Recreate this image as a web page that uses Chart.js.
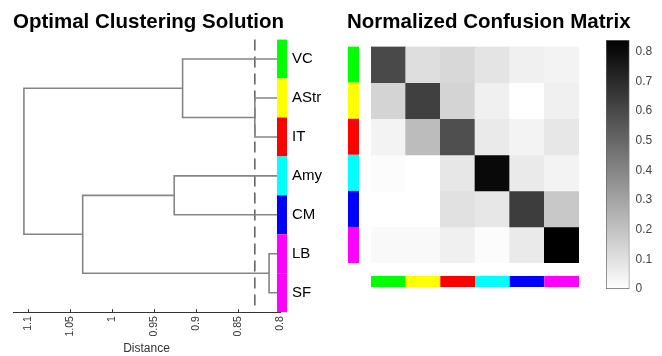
<!DOCTYPE html>
<html lang="en">
<head>
  <meta charset="UTF-8">
  <title>Optimal Clustering Solution</title>
  <style>
    body { margin: 0; background: #fff; }
    .wrap { position: relative; width: 662px; height: 356px; }
    canvas { position: absolute; top: 0; }
  </style>
  <script src="https://cdn.jsdelivr.net/npm/chart.js"></script>
</head>
<body>
  <div class="wrap">
    <canvas id="dendro" width="330" height="356" style="left:0"></canvas>
    <canvas id="matrix" width="332" height="356" style="left:330px"></canvas>
    <canvas id="cbar" width="62" height="356" style="left:600px"></canvas>
  </div>

  <script>
    // dendrogram leaves, top to bottom
    const leaves = ['VC', 'AStr', 'IT', 'Amy', 'CM', 'LB', 'SF'];
    const leafColors = ['#00ff00', '#ffff00', '#ff0000', '#00ffff', '#0000ff', '#ff00ff', '#ff00ff'];
    const leafBase = 0.8;
    // merges: [nodeA, nodeB, distance]; leaves are 0-6, new nodes numbered from 7
    const merges = [
      [5, 6, 0.813],   // 7: LB+SF
      [1, 2, 0.830],   // 8: AStr+IT
      [0, 8, 0.916],   // 9: VC+(AStr,IT)
      [3, 4, 0.926],   // 10: Amy+CM
      [10, 7, 1.035],  // 11
      [9, 11, 1.105]   // 12: root
    ];
    const cutoff = 0.83;
    const distanceTicks = [1.1, 1.05, 1, 0.95, 0.9, 0.85, 0.8];

    // confusion matrix, one array per true class (rows sum to ~1)
    const classes = ['VC', 'AStr', 'IT', 'Amy', 'CM', 'LB/SF'];
    const classColors = ['#00ff00', '#ffff00', '#ff0000', '#00ffff', '#0000ff', '#ff00ff'];
    const rowVC   = [0.60, 0.11, 0.13, 0.09, 0.05, 0.04];
    const rowAStr = [0.14, 0.63, 0.14, 0.05, 0.00, 0.05];
    const rowIT   = [0.04, 0.22, 0.58, 0.07, 0.04, 0.08];
    const rowAmy  = [0.01, 0.00, 0.08, 0.81, 0.07, 0.04];
    const rowCM   = [0.00, 0.00, 0.10, 0.08, 0.64, 0.18];
    const rowLBSF = [0.02, 0.02, 0.05, 0.01, 0.07, 0.84];
    const confusion = [rowVC, rowAStr, rowIT, rowAmy, rowCM, rowLBSF];
    const colorMax = 0.84;
    const colorbarTicks = [0, 0.1, 0.2, 0.3, 0.4, 0.5, 0.6, 0.7, 0.8];

    Chart.defaults.font.family = "'Liberation Sans', Arial, sans-serif";

    const gray = v => {
      const g = Math.round(255 * (1 - Math.min(v, colorMax) / colorMax));
      return `rgb(${g},${g},${g})`;
    };

    // ---- dendrogram ----
    const nodeX = [], nodeY = [];
    leaves.forEach((l, i) => { nodeX[i] = leafBase; nodeY[i] = i; });
    const links = merges.map(([a, b, h], k) => {
      nodeX[7 + k] = h;
      nodeY[7 + k] = (nodeY[a] + nodeY[b]) / 2;
      return [
        { x: nodeX[a], y: nodeY[a] }, { x: h, y: nodeY[a] },
        { x: h, y: nodeY[b] }, { x: nodeX[b], y: nodeY[b] }
      ];
    });

    // colour strip next to the leaves, plus small inward tick marks on the distance axis
    const leafStrip = {
      id: 'leafStrip',
      afterDatasetsDraw(chart) {
        const { ctx, chartArea, scales: { x, y } } = chart;
        ctx.save();
        ctx.strokeStyle = '#333';
        ctx.lineWidth = 1;
        distanceTicks.forEach(v => {
          const px = Math.round(x.getPixelForValue(v)) + 0.5;
          ctx.beginPath();
          ctx.moveTo(px, chartArea.bottom);
          ctx.lineTo(px, chartArea.bottom - 3);
          ctx.stroke();
        });
        leafColors.forEach((c, i) => {
          const top = y.getPixelForValue(i - 0.5);
          const bot = y.getPixelForValue(i + 0.5);
          ctx.fillStyle = c;
          ctx.fillRect(chartArea.right - 3, top, 10, bot - top);
        });
        ctx.restore();
      }
    };

    new Chart(document.getElementById('dendro'), {
      type: 'scatter',
      data: {
        datasets: [
          ...links.map(pts => ({
            data: pts, showLine: true, borderColor: '#858585', borderWidth: 1.6,
            pointRadius: 0, tension: 0, clip: false
          })),
          {
            data: [{ x: cutoff, y: -0.5 }, { x: cutoff, y: 6.45 }],
            showLine: true, borderColor: '#666', borderWidth: 1.6, borderDash: [11, 6],
            pointRadius: 0, clip: false
          }
        ]
      },
      options: {
        responsive: false,
        animation: false,
        layout: { padding: { left: 13, right: 0, top: 0, bottom: 0 } },
        plugins: {
          legend: { display: false },
          tooltip: { enabled: false },
          title: {
            display: true, text: 'Optimal Clustering Solution', align: 'start', color: '#000',
            font: { size: 20.5, weight: 'bold' }, padding: { top: 10, bottom: 5 }
          }
        },
        scales: {
          x: {
            type: 'linear', reverse: true, min: 0.8, max: 1.118, bounds: 'data',
            afterBuildTicks: s => { s.ticks = distanceTicks.map(v => ({ value: v })); },
            ticks: { minRotation: 90, maxRotation: 90, padding: 4, color: '#333', font: { size: 10.5 },
              callback: v => String(v) },
            grid: { display: false, drawTicks: false },
            border: { color: '#333', width: 1 },
            title: { display: true, text: 'Distance', color: '#333', font: { size: 12 },
              padding: { top: 1, bottom: 0 } }
          },
          y: {
            type: 'linear', position: 'right', reverse: true, min: -0.5, max: 6.5, bounds: 'data',
            afterBuildTicks: s => { s.ticks = leaves.map((l, i) => ({ value: i })); },
            ticks: { callback: v => leaves[v], padding: 12, color: '#000', font: { size: 15 } },
            grid: { display: false, drawTicks: false },
            border: { display: false },
            afterFit: s => { s.width = 50; }
          }
        }
      },
      plugins: [leafStrip]
    });

    // ---- confusion matrix ----
    const matrixStrips = {
      id: 'matrixStrips',
      afterDatasetsDraw(chart) {
        const { ctx, chartArea, scales: { x, y } } = chart;
        const half = (x.getPixelForValue(1) - x.getPixelForValue(0)) / 2;
        classColors.forEach((c, i) => {
          ctx.fillStyle = c;
          const t = y.getPixelForValue(i), b = y.getPixelForValue(i + 1);
          ctx.fillRect(chartArea.left - 23, Math.min(t, b), 11, Math.abs(b - t));
          const cx = x.getPixelForValue(i);
          ctx.fillRect(cx - half, chartArea.bottom + 13, 2 * half, 11);
        });
      }
    };

    new Chart(document.getElementById('matrix'), {
      type: 'bar',
      data: {
        labels: classes,
        datasets: confusion.map((row, r) => ({
          label: classes[r],
          data: row.map(() => 1),
          backgroundColor: row.map(gray),
          borderWidth: 0,
          barPercentage: 1,
          categoryPercentage: 1
        }))
      },
      options: {
        responsive: false,
        animation: false,
        layout: { padding: { left: 17, right: 0, top: 0, bottom: 0 } },
        plugins: {
          legend: { display: false },
          tooltip: { enabled: false },
          title: {
            display: true, text: 'Normalized Confusion Matrix', align: 'start', color: '#000',
            font: { size: 20.5, weight: 'bold' }, padding: { top: 10, bottom: 12 }
          }
        },
        scales: {
          x: {
            stacked: true,
            ticks: { display: false }, grid: { display: false, drawTicks: false }, border: { display: false },
            afterFit: s => { s.height = 93; }
          },
          y: {
            stacked: true, reverse: true, min: 0, max: 6,
            ticks: { display: false }, grid: { display: false, drawTicks: false }, border: { display: false },
            afterFit: s => { s.width = 24; }
          },
          yRight: {
            type: 'linear', position: 'right',
            ticks: { display: false }, grid: { display: false, drawTicks: false }, border: { display: false },
            afterFit: s => { s.width = 83; }
          }
        }
      },
      plugins: [matrixStrips]
    });

    // ---- colour bar ----
    new Chart(document.getElementById('cbar'), {
      type: 'bar',
      data: {
        labels: [''],
        datasets: [{
          data: [colorMax],
          backgroundColor: c => {
            const a = c.chart.chartArea;
            if (!a) return '#888';
            const g = c.chart.ctx.createLinearGradient(0, a.bottom, 0, a.top);
            g.addColorStop(0, gray(0));
            g.addColorStop(1, gray(colorMax));
            return g;
          },
          borderColor: '#666',
          borderWidth: 1,
          borderSkipped: false,
          barPercentage: 1,
          categoryPercentage: 1
        }]
      },
      options: {
        responsive: false,
        animation: false,
        layout: { padding: { left: 6, right: 9, top: 40, bottom: 67 } },
        plugins: { legend: { display: false }, tooltip: { enabled: false } },
        scales: {
          x: { display: false },
          y: {
            position: 'right', min: 0, max: colorMax, bounds: 'data',
            afterBuildTicks: s => { s.ticks = colorbarTicks.map(v => ({ value: v })); },
            ticks: { padding: 6, color: '#444', font: { size: 12 }, callback: v => String(v) },
            grid: { display: false, drawTicks: false },
            border: { display: false }
          }
        }
      }
    });
  </script>
</body>
</html>
